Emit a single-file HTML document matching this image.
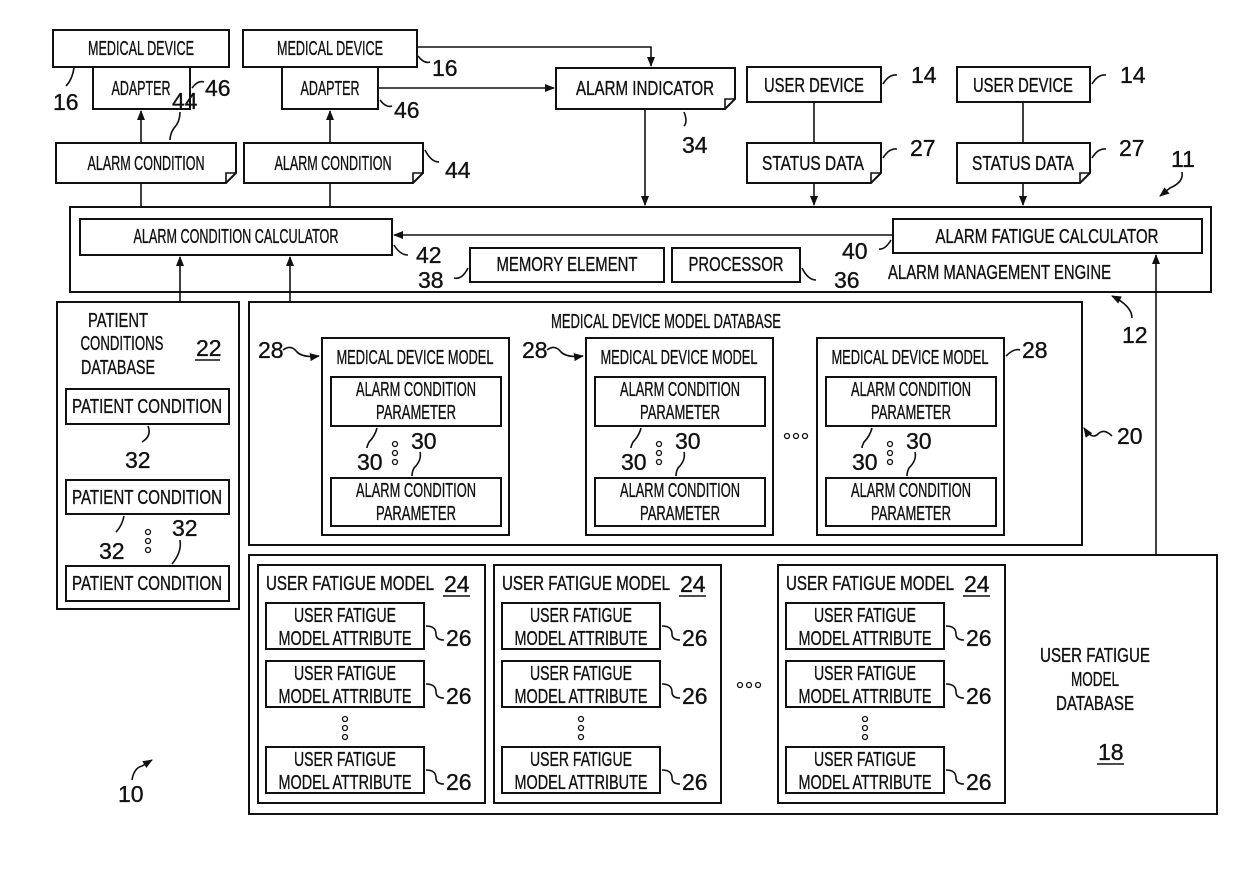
<!DOCTYPE html>
<html><head><meta charset="utf-8"><style>
body{margin:0;background:#fff}
svg{display:block}
text{font-family:"Liberation Sans",Arial,sans-serif;font-size:20px;fill:#111;stroke:#111;stroke-width:0.35}
.b{fill:#fff;stroke:#111;stroke-width:2}
.l{fill:none;stroke:#111;stroke-width:1.6}
.n{font-size:23px}
</style></head><body>
<svg width="1240" height="881" viewBox="0 0 1240 881" xmlns="http://www.w3.org/2000/svg">
<defs><marker id="a" markerWidth="10" markerHeight="10" refX="9" refY="5" orient="auto" markerUnits="userSpaceOnUse"><path d="M0,1 L10,5 L0,9 Z" fill="#111"/></marker></defs>

<rect class="b" x="53" y="30" width="176" height="37"/>
<text x="141" y="55" text-anchor="middle" textLength="106" lengthAdjust="spacingAndGlyphs">MEDICAL DEVICE</text>
<rect class="b" x="93" y="67" width="97" height="42"/>
<text x="141" y="95" text-anchor="middle" textLength="59" lengthAdjust="spacingAndGlyphs">ADAPTER</text>
<path class="l" d="M74,68 q-2,12 -8,18"/><text class="n" x="53" y="110">16</text>
<path class="l" d="M192,88 q6,-8 12,-6"/><text class="n" x="205" y="96">46</text>

<rect class="b" x="243" y="30" width="174" height="37"/>
<text x="330" y="55" text-anchor="middle" textLength="106" lengthAdjust="spacingAndGlyphs">MEDICAL DEVICE</text>
<rect class="b" x="282" y="67" width="96" height="42"/>
<text x="330" y="95" text-anchor="middle" textLength="59" lengthAdjust="spacingAndGlyphs">ADAPTER</text>
<path class="l" d="M418,56 q6,8 12,6"/><text class="n" x="432" y="76">16</text>
<path class="l" d="M380,100 q6,8 12,6"/><text class="n" x="394" y="118">46</text>

<path class="b" d="M556,68 H735 V99 L725,109 H556 Z"/>
<path class="l" d="M725,109 V99 H735"/>
<text x="645" y="95" text-anchor="middle" textLength="138" lengthAdjust="spacingAndGlyphs">ALARM INDICATOR</text>
<path class="l" d="M684,112 q4,10 0,14"/><text class="n" x="682" y="153">34</text>
<path class="l" d="M417,47 H651 V66" marker-end="url(#a)"/>
<path class="l" d="M378,88 H554" marker-end="url(#a)"/>
<path class="l" d="M645,109 V205" marker-end="url(#a)"/>

<path class="b" d="M56,143 H236 V173 L226,183 H56 Z"/><path class="l" d="M226,183 V173 H236"/>
<text x="146" y="170" text-anchor="middle" textLength="117" lengthAdjust="spacingAndGlyphs">ALARM CONDITION</text>
<path class="b" d="M244,143 H423 V173 L413,183 H244 Z"/><path class="l" d="M413,183 V173 H423"/>
<text x="333" y="170" text-anchor="middle" textLength="117" lengthAdjust="spacingAndGlyphs">ALARM CONDITION</text>
<text class="n" x="172" y="109">44</text><path class="l" d="M180,112 q0,10 -6,16 q-4,6 -4,12"/>
<path class="l" d="M425,150 q6,12 14,12"/><text class="n" x="445" y="178">44</text>
<path class="l" d="M141,143 V111" marker-end="url(#a)"/>
<path class="l" d="M330,143 V111" marker-end="url(#a)"/>
<path class="l" d="M141,183 V219 M330,183 V219"/>

<rect class="b" x="747" y="67" width="134" height="35"/>
<text x="814" y="92" text-anchor="middle" textLength="100" lengthAdjust="spacingAndGlyphs">USER DEVICE</text>
<rect class="b" x="957" y="67" width="133" height="35"/>
<text x="1023" y="92" text-anchor="middle" textLength="100" lengthAdjust="spacingAndGlyphs">USER DEVICE</text>
<path class="l" d="M883,84 q6,-10 14,-9"/><text class="n" x="911" y="83">14</text>
<path class="l" d="M1092,84 q6,-10 14,-9"/><text class="n" x="1120" y="83">14</text>
<path class="b" d="M747,143 H881 V173 L871,183 H747 Z"/><path class="l" d="M871,183 V173 H881"/>
<text x="813" y="170" text-anchor="middle" textLength="102" lengthAdjust="spacingAndGlyphs">STATUS DATA</text>
<path class="b" d="M957,143 H1090 V173 L1080,183 H957 Z"/><path class="l" d="M1080,183 V173 H1090"/>
<text x="1023" y="170" text-anchor="middle" textLength="102" lengthAdjust="spacingAndGlyphs">STATUS DATA</text>
<path class="l" d="M883,158 q6,-10 14,-9"/><text class="n" x="910" y="156">27</text>
<path class="l" d="M1092,158 q6,-10 14,-9"/><text class="n" x="1119" y="156">27</text>
<path class="l" d="M814,102 V143 M1023,102 V143"/>
<path class="l" d="M814,183 V205" marker-end="url(#a)"/>
<path class="l" d="M1023,183 V205" marker-end="url(#a)"/>
<text class="n" x="1171" y="167">11</text><path class="l" d="M1182,172 q2,10 -12,16 l-10,8" marker-end="url(#a)"/>

<rect class="b" x="70" y="207" width="1141" height="85"/>
<rect class="b" x="80" y="219" width="312" height="36"/>
<text x="236" y="243" text-anchor="middle" textLength="205" lengthAdjust="spacingAndGlyphs">ALARM CONDITION CALCULATOR</text>
<path class="l" d="M394,245 q6,10 14,10"/><text class="n" x="416" y="263">42</text>
<rect class="b" x="893" y="219" width="309" height="34"/>
<text x="1047" y="243" text-anchor="middle" textLength="223" lengthAdjust="spacingAndGlyphs">ALARM FATIGUE CALCULATOR</text>
<path class="l" d="M893,235 H394" marker-end="url(#a)"/>
<path class="l" d="M891,240 q-6,10 -12,9"/><text class="n" x="842" y="259">40</text>
<rect class="b" x="470" y="248" width="194" height="34"/>
<text x="567" y="271" text-anchor="middle" textLength="141" lengthAdjust="spacingAndGlyphs">MEMORY ELEMENT</text>
<path class="l" d="M468,268 q-6,12 -14,10"/><text class="n" x="418" y="288">38</text>
<rect class="b" x="672" y="248" width="128" height="34"/>
<text x="736" y="271" text-anchor="middle" textLength="95" lengthAdjust="spacingAndGlyphs">PROCESSOR</text>
<path class="l" d="M802,268 q6,12 14,12"/><text class="n" x="834" y="288">36</text>
<text x="888" y="279" textLength="223" lengthAdjust="spacingAndGlyphs">ALARM MANAGEMENT ENGINE</text>
<path class="l" d="M1132,318 q0,-12 -20,-22" marker-end="url(#a)"/><text class="n" x="1122" y="343">12</text>

<path class="l" d="M180,302 V257" marker-end="url(#a)"/>
<path class="l" d="M290,302 V257" marker-end="url(#a)"/>
<path class="l" d="M1156,555 V255" marker-end="url(#a)"/>

<rect class="b" x="57" y="302" width="182" height="307"/>
<text x="118" y="327" text-anchor="middle" textLength="60" lengthAdjust="spacingAndGlyphs">PATIENT</text>
<text x="122" y="350" text-anchor="middle" textLength="83" lengthAdjust="spacingAndGlyphs">CONDITIONS</text>
<text x="118" y="374" text-anchor="middle" textLength="74" lengthAdjust="spacingAndGlyphs">DATABASE</text>
<text class="n" x="196" y="356">22</text><path class="l" d="M195,360 H220"/>
<rect class="b" x="66" y="389" width="163" height="35"/>
<text x="147" y="413" text-anchor="middle" textLength="150" lengthAdjust="spacingAndGlyphs">PATIENT CONDITION</text>
<path class="l" d="M148,426 q4,10 -6,16"/><text class="n" x="125" y="468">32</text>
<rect class="b" x="66" y="480" width="163" height="34"/>
<text x="147" y="504" text-anchor="middle" textLength="150" lengthAdjust="spacingAndGlyphs">PATIENT CONDITION</text>
<path class="l" d="M124,516 q-2,10 -8,16"/><text class="n" x="99" y="559">32</text>
<text class="n" x="172" y="536">32</text><path class="l" d="M180,540 q2,12 -8,24"/>
<g fill="none" stroke="#111" stroke-width="1.3"><circle cx="148" cy="532" r="2.5"/><circle cx="148" cy="541" r="2.5"/><circle cx="148" cy="550" r="2.5"/></g>
<rect class="b" x="66" y="566" width="163" height="35"/>
<text x="147" y="590" text-anchor="middle" textLength="150" lengthAdjust="spacingAndGlyphs">PATIENT CONDITION</text>

<rect class="b" x="249" y="302" width="833" height="243"/>
<text x="666" y="328" text-anchor="middle" textLength="230" lengthAdjust="spacingAndGlyphs">MEDICAL DEVICE MODEL DATABASE</text>
<g id="m1">
<rect class="b" x="322" y="338" width="187" height="197"/>
<text x="415" y="364" text-anchor="middle" textLength="157" lengthAdjust="spacingAndGlyphs">MEDICAL DEVICE MODEL</text>
<rect class="b" x="331" y="377" width="170" height="49"/>
<text x="416" y="396" text-anchor="middle" textLength="120" lengthAdjust="spacingAndGlyphs">ALARM CONDITION</text>
<text x="416" y="419" text-anchor="middle" textLength="80" lengthAdjust="spacingAndGlyphs">PARAMETER</text>
<path class="l" d="M377,428 q-2,8 -8,14 q-2,4 -2,6"/><text class="n" x="357" y="470">30</text>
<text class="n" x="411" y="449">30</text><path class="l" d="M420,452 q2,8 -6,16 q-2,4 -2,8"/>
<g fill="none" stroke="#111" stroke-width="1.3"><circle cx="395" cy="444" r="2.5"/><circle cx="395" cy="453" r="2.5"/><circle cx="395" cy="462" r="2.5"/></g>
<rect class="b" x="331" y="478" width="170" height="48"/>
<text x="416" y="497" text-anchor="middle" textLength="120" lengthAdjust="spacingAndGlyphs">ALARM CONDITION</text>
<text x="416" y="520" text-anchor="middle" textLength="80" lengthAdjust="spacingAndGlyphs">PARAMETER</text>
</g>
<use href="#m1" x="264"/>
<use href="#m1" x="495"/>
<text class="n" x="258" y="358">28</text><path class="l" d="M283,350 q8,-6 14,2 q6,6 22,4" marker-end="url(#a)"/>
<text class="n" x="522" y="358">28</text><path class="l" d="M547,350 q8,-6 14,2 q6,6 22,4" marker-end="url(#a)"/>
<path class="l" d="M1006,356 q8,-8 14,-6"/><text class="n" x="1022" y="358">28</text>
<g fill="none" stroke="#111" stroke-width="1.3"><circle cx="787" cy="436" r="2.5"/><circle cx="796" cy="436" r="2.5"/><circle cx="805" cy="436" r="2.5"/></g>
<path class="l" d="M1112,436 q-8,-8 -14,-2 q-6,6 -14,-6" marker-end="url(#a)"/><text class="n" x="1117" y="444">20</text>

<rect class="b" x="249" y="555" width="968" height="259"/>
<g id="u1">
<rect class="b" x="258" y="565" width="227" height="238"/>
<text x="266" y="590" textLength="168" lengthAdjust="spacingAndGlyphs">USER FATIGUE MODEL</text>
<text class="n" x="444" y="592">24</text><path class="l" d="M443,596 H470"/>
<g id="at">
<rect class="b" x="266" y="603" width="158" height="46"/>
<text x="345" y="622" text-anchor="middle" textLength="102" lengthAdjust="spacingAndGlyphs">USER FATIGUE</text>
<text x="345" y="645" text-anchor="middle" textLength="133" lengthAdjust="spacingAndGlyphs">MODEL ATTRIBUTE</text>
<path class="l" d="M426,626 q10,0 10,8 q0,6 8,6"/><text class="n" x="446" y="646">26</text>
</g>
<use href="#at" y="58"/>
<use href="#at" y="144"/>
<g fill="none" stroke="#111" stroke-width="1.3"><circle cx="345" cy="719" r="2.5"/><circle cx="345" cy="728" r="2.5"/><circle cx="345" cy="737" r="2.5"/></g>
</g>
<use href="#u1" x="236"/>
<use href="#u1" x="520"/>
<g fill="none" stroke="#111" stroke-width="1.3"><circle cx="740" cy="685" r="2.5"/><circle cx="749" cy="685" r="2.5"/><circle cx="758" cy="685" r="2.5"/></g>
<text x="1095" y="662" text-anchor="middle" textLength="110" lengthAdjust="spacingAndGlyphs">USER FATIGUE</text>
<text x="1095" y="686" text-anchor="middle" textLength="48" lengthAdjust="spacingAndGlyphs">MODEL</text>
<text x="1095" y="710" text-anchor="middle" textLength="78" lengthAdjust="spacingAndGlyphs">DATABASE</text>
<text class="n" x="1098" y="760">18</text><path class="l" d="M1097,764 H1124"/>

<text class="n" x="118" y="802">10</text><path class="l" d="M132,780 q2,-12 10,-14 l10,-6" marker-end="url(#a)"/>
</svg>
</body></html>
